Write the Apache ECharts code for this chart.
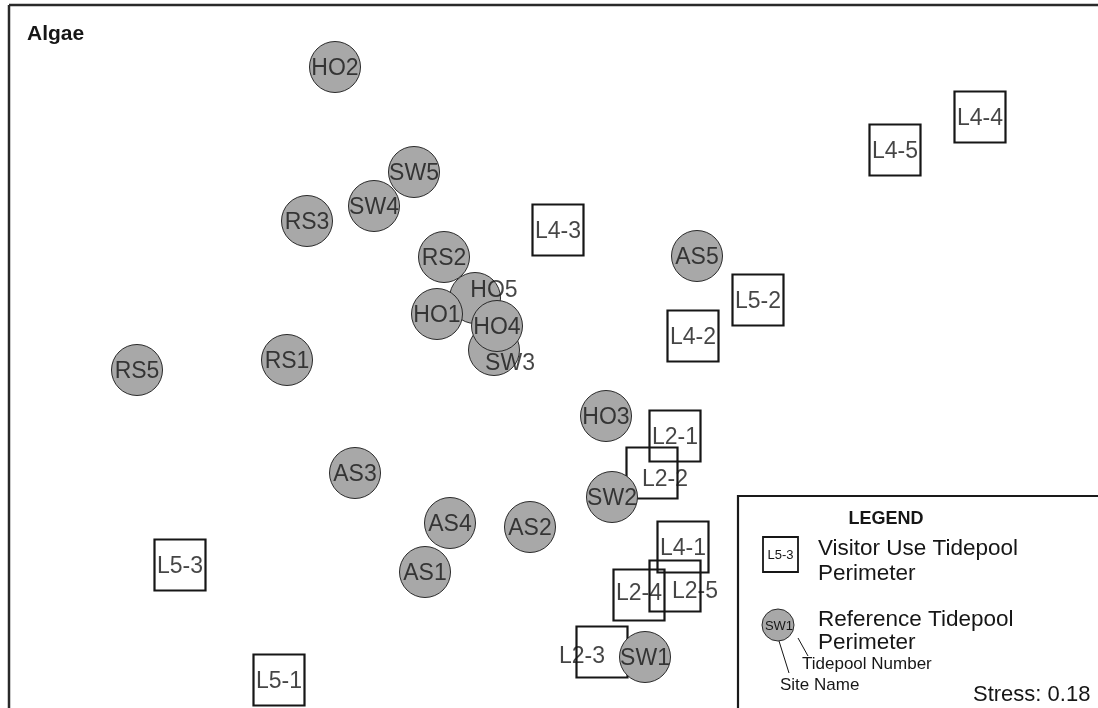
<!DOCTYPE html>
<html>
<head>
<meta charset="utf-8">
<script src="https://cdn.jsdelivr.net/npm/echarts@6/dist/echarts.min.js"></script>
<style>
html,body{margin:0;padding:0;background:#fff;}
#chart{width:1098px;height:708px;}
</style>
</head>
<body>
<div id="chart"></div>
<script>
// Reference tidepools (circles): [x, y, name]
var referenceSites = [
  [-0.856, 1.148, 'HO2'],
  [-0.540, 0.728, 'SW5'],
  [-0.700, 0.592, 'SW4'],
  [-0.968, 0.532, 'RS3'],
  [-0.420, 0.388, 'RS2'],
  [-0.296, 0.224, 'HO5'],
  [-0.220, 0.016, 'SW3'],
  [-0.448, 0.160, 'HO1'],
  [-0.208, 0.112, 'HO4'],
  [-1.048, -0.024, 'RS1'],
  [-1.648, -0.064, 'RS5'],
  [0.592, 0.392, 'AS5'],
  [0.228, -0.248, 'HO3'],
  [0.252, -0.572, 'SW2'],
  [-0.776, -0.476, 'AS3'],
  [-0.396, -0.676, 'AS4'],
  [-0.076, -0.692, 'AS2'],
  [-0.496, -0.872, 'AS1'],
  [0.384, -1.212, 'SW1']
];
// Visitor use tidepools (squares): [x, y, name]
var visitorSites = [
  [1.724, 0.948, 'L4-4'],
  [1.384, 0.816, 'L4-5'],
  [0.036, 0.496, 'L4-3'],
  [0.836, 0.216, 'L5-2'],
  [0.576, 0.072, 'L4-2'],
  [0.504, -0.328, 'L2-1'],
  [0.412, -0.476, 'L2-2'],
  [0.536, -0.772, 'L4-1'],
  [0.504, -0.928, 'L2-5'],
  [0.360, -0.964, 'L2-4'],
  [0.212, -1.192, 'L2-3'],
  [-1.476, -0.844, 'L5-3'],
  [-1.080, -1.304, 'L5-1']
];
var chartTitle = 'Algae';
var stressValue = 'Stress: 0.18';

// label nudges (pixels) where the original label sits off-centre
var labelNudge = {
  'HO5': [19, -9], 'SW3': [16, 12], 'L2-2': [13, 5],
  'L2-3': [-20, 3], 'L2-5': [20, 4], 'L2-4': [0, -3]
};

var FONT = '"Liberation Sans", Arial, sans-serif';
var INK = '#161616';

var labelData = visitorSites.concat(referenceSites).map(function (d) {
  var n = labelNudge[d[2]] || [0, 0];
  return {
    value: [d[0], d[1]],
    name: d[2],
    label: { offset: [n[0], n[1] + 2] }
  };
});

var chart = echarts.init(document.getElementById('chart'), null, { renderer: 'canvas' });

var legendX = 738, legendY = 496;

chart.setOption({
  backgroundColor: '#ffffff',
  animation: false,
  title: {
    text: chartTitle,
    left: 22, top: 19,
    textStyle: { fontFamily: FONT, fontSize: 21, fontWeight: 'bold', color: INK }
  },
  grid: { left: 0, right: 0, top: 0, bottom: 0 },
  xAxis: { type: 'value', min: -2.196, max: 2.196, show: false },
  yAxis: { type: 'value', min: -1.416, max: 1.416, show: false },
  series: [
    {
      type: 'scatter', silent: true, z: 2,
      symbol: 'rect', symbolSize: 51,
      itemStyle: { color: 'rgba(0,0,0,0)', borderColor: INK, borderWidth: 2.2, opacity: 1 },
      data: visitorSites.map(function (d) { return { value: [d[0], d[1]], name: d[2] }; })
    },
    {
      type: 'scatter', silent: true, z: 3,
      symbol: 'circle', symbolSize: 51,
      itemStyle: { color: '#a8a8a8', borderColor: '#2a2a2a', borderWidth: 1, opacity: 1 },
      data: referenceSites.map(function (d) { return { value: [d[0], d[1]], name: d[2] }; })
    },
    {
      type: 'scatter', silent: true, z: 5,
      symbol: 'circle', symbolSize: 1,
      itemStyle: { color: 'rgba(0,0,0,0)' },
      label: {
        show: true, position: 'inside',
        formatter: function (p) { return p.name; },
        fontFamily: FONT, fontSize: 23, color: INK
      },
      data: labelData
    }
  ],
  graphic: [
    // frame
    { type: 'line', z: 10, shape: { x1: 9, y1: 5, x2: 1098, y2: 5 }, style: { stroke: '#2a2a2a', lineWidth: 2.5 } },
    { type: 'line', z: 10, shape: { x1: 9, y1: 5, x2: 9, y2: 708 }, style: { stroke: '#2a2a2a', lineWidth: 2.5 } },
    // legend box
    { type: 'rect', z: 10, shape: { x: legendX, y: legendY, width: 400, height: 300 },
      style: { fill: '#ffffff', stroke: '#1a1a1a', lineWidth: 2.2 } },
    { type: 'text', z: 11, style: { text: 'LEGEND', x: 886, y: 519, align: 'center', verticalAlign: 'middle',
      font: 'bold 18px ' + FONT, fill: INK } },
    { type: 'rect', z: 11, shape: { x: 763, y: 537, width: 35, height: 35 },
      style: { fill: '#ffffff', stroke: INK, lineWidth: 1.8 } },
    { type: 'text', z: 12, style: { text: 'L5-3', x: 780.5, y: 555, align: 'center', verticalAlign: 'middle',
      font: '13px ' + FONT, fill: INK } },
    { type: 'text', z: 11, style: { text: 'Visitor Use Tidepool', x: 818, y: 549, verticalAlign: 'middle',
      font: '22.5px ' + FONT, fill: INK } },
    { type: 'text', z: 11, style: { text: 'Perimeter', x: 818, y: 574, verticalAlign: 'middle',
      font: '22.5px ' + FONT, fill: INK } },
    { type: 'circle', z: 11, shape: { cx: 778, cy: 625, r: 16 },
      style: { fill: '#a8a8a8', stroke: '#2a2a2a', lineWidth: 1 } },
    { type: 'text', z: 12, style: { text: 'SW1', x: 779, y: 626, align: 'center', verticalAlign: 'middle',
      font: '13px ' + FONT, fill: INK } },
    { type: 'text', z: 11, style: { text: 'Reference Tidepool', x: 818, y: 620, verticalAlign: 'middle',
      font: '22.5px ' + FONT, fill: INK } },
    { type: 'text', z: 11, style: { text: 'Perimeter', x: 818, y: 643, verticalAlign: 'middle',
      font: '22.5px ' + FONT, fill: INK } },
    { type: 'line', z: 12, shape: { x1: 779, y1: 641, x2: 789, y2: 673 }, style: { stroke: INK, lineWidth: 1 } },
    { type: 'line', z: 12, shape: { x1: 798, y1: 638, x2: 808, y2: 656 }, style: { stroke: INK, lineWidth: 1 } },
    { type: 'text', z: 11, style: { text: 'Tidepool Number', x: 802, y: 664, verticalAlign: 'middle',
      font: '17px ' + FONT, fill: INK } },
    { type: 'text', z: 11, style: { text: 'Site Name', x: 780, y: 685, verticalAlign: 'middle',
      font: '17px ' + FONT, fill: INK } },
    { type: 'text', z: 11, style: { text: stressValue, x: 973, y: 695, verticalAlign: 'middle',
      font: '22px ' + FONT, fill: INK } }
  ]
});
</script>
</body>
</html>
